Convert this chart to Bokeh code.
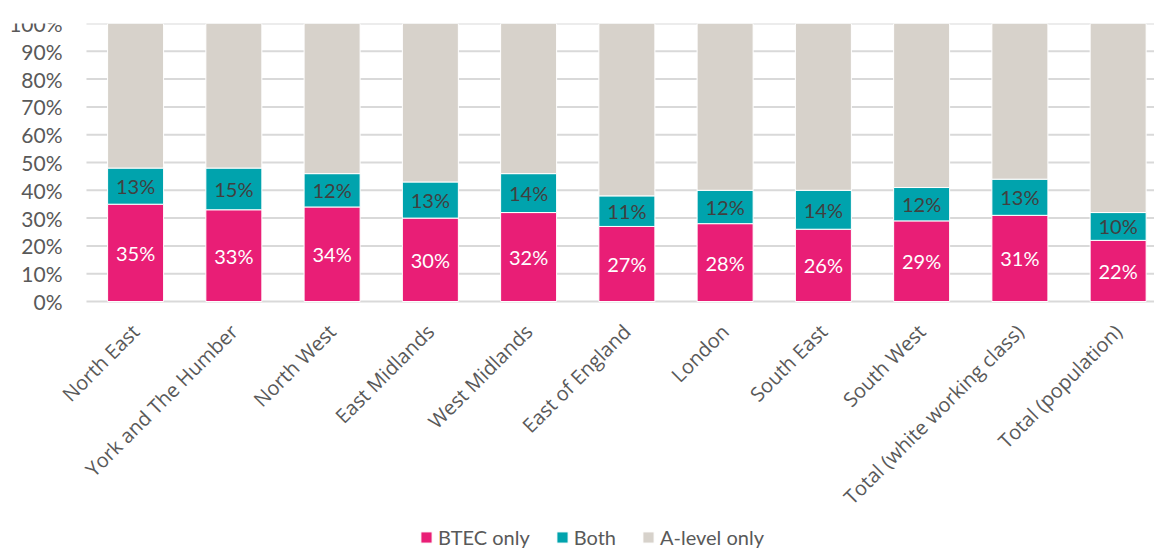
import math
from bokeh.plotting import figure
from bokeh.models import (ColumnDataSource, Range1d, Legend, LegendItem, LabelSet)
from bokeh.core.properties import value
from bokeh.embed import file_html
from bokeh.resources import INLINE

categories = ["North East", "York and The Humber", "North West", "East Midlands",
              "West Midlands", "East of England", "London", "South East", "South West",
              "Total (white working class)", "Total (population)"]
btec_only = [35, 33, 34, 30, 32, 27, 28, 26, 29, 31, 22]
both = [13, 15, 12, 13, 14, 11, 12, 14, 12, 13, 10]
alevel_only = [100 - a - b for a, b in zip(btec_only, both)]
series_names = ["BTEC only", "Both", "A-level only"]
colors = ["#E91E76", "#00A3AD", "#D7D2CB"]
y_ticks = [0, 10, 20, 30, 40, 50, 60, 70, 80, 90, 100]
y_tick_labels = [f"{t}%" for t in y_ticks]

x = list(range(len(categories)))
src = ColumnDataSource(dict(
    x=x,
    cat=categories,
    cat_y=[-0.095] * len(categories),
    btec=[v / 100 for v in btec_only],
    both=[v / 100 for v in both],
    alevel=[v / 100 for v in alevel_only],
    btec_mid=[v / 200 for v in btec_only],
    both_mid=[(a + b / 2) / 100 for a, b in zip(btec_only, both)],
    btec_lbl=[f"{v}%" for v in btec_only],
    both_lbl=[f"{v}%" for v in both],
))

GRID_X0, GRID_X1, LBL_X = -0.5, 10.37, -0.744
tick_src = ColumnDataSource(dict(
    y=[t / 100 for t in y_ticks],
    lbl=y_tick_labels,
    x0=[GRID_X0] * len(y_ticks),
    x1=[GRID_X1] * len(y_ticks),
    lx=[LBL_X] * len(y_ticks),
))

# the frame covers the whole page so category labels and legend are not clipped
p = figure(frame_width=1154, frame_height=526, output_backend="svg", toolbar_location=None,
           x_range=Range1d(-1.375, 10.37), y_range=Range1d(-0.892, 1),
           x_axis_location=None, y_axis_location=None,
           min_border_left=0, min_border_right=0, min_border_top=23, min_border_bottom=0)
p.outline_line_color = None
p.background_fill_color = "white"
p.xgrid.grid_line_color = None
p.ygrid.grid_line_color = None

# horizontal gridlines
p.segment(x0="x0", x1="x1", y0="y", y1="y", source=tick_src,
          line_color="#D9D9D9", line_width=2)

r = p.vbar_stack(["btec", "both", "alevel"], x="x", width=0.57, source=src,
                 color=colors, line_color="white", line_width=1)

FONT = "Lato"
# y tick labels
p.add_layout(LabelSet(x="lx", y="y", text="lbl", source=tick_src,
                      text_align="right", text_baseline="middle",
                      text_font=value(FONT), text_font_size="21px", text_color="#595959"))

p.add_layout(LabelSet(x="x", y="btec_mid", text="btec_lbl", source=src,
                      text_align="center", text_baseline="middle",
                      text_font=value(FONT), text_font_size="20px", text_color="white"))
p.add_layout(LabelSet(x="x", y="both_mid", text="both_lbl", source=src,
                      text_align="center", text_baseline="middle",
                      text_font=value(FONT), text_font_size="20px", text_color="#404040"))

# category labels (rotated 45 degrees)
p.add_layout(LabelSet(x="x", y="cat_y", text="cat", source=src, angle=math.pi / 4,
                      text_align="right", text_baseline="middle",
                      text_font=value("Open Sans"), text_font_size="20px",
                      text_color="#595959"))

legend = Legend(items=[LegendItem(label=n, renderers=[rr]) for n, rr in zip(series_names, r)],
                location=(419, 0), orientation="horizontal",
                label_text_font=FONT, label_text_font_size="20px", label_text_color="#595959",
                glyph_width=14, glyph_height=14, label_standoff=5, spacing=25, label_height=14,
                padding=0, margin=0, border_line_color=None, background_fill_alpha=0)
p.add_layout(legend, "center")

open("out.html", "w").write(file_html(p, INLINE))
